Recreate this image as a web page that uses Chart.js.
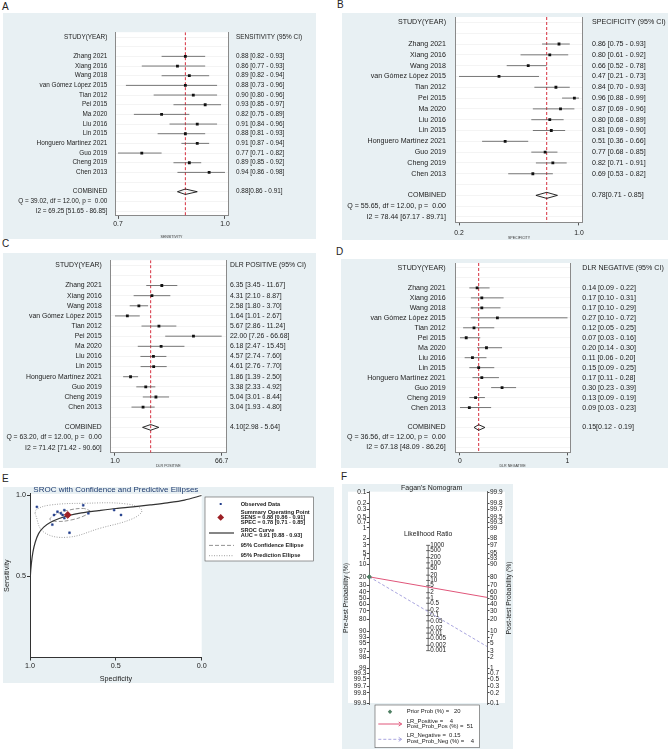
<!DOCTYPE html>
<html>
<head>
<meta charset="utf-8">
<script src="https://cdn.jsdelivr.net/npm/chart.js@4.4.1/dist/chart.umd.min.js"></script>
<style>
  body { margin: 0; background: #fff; }
  #page { position: relative; width: 668px; height: 749px; overflow: hidden; font-family: "Liberation Sans", Arial, sans-serif; }
  canvas { position: absolute; }
  .tag { position: absolute; font-size: 10px; line-height: 10px; color: #222; }
</style>
</head>
<body>
<div id="page">
  <div class="tag" style="left:2px;top:2px">A</div>
  <div class="tag" style="left:337px;top:0px">B</div>
  <div class="tag" style="left:2px;top:239px">C</div>
  <div class="tag" style="left:336px;top:247px">D</div>
  <div class="tag" style="left:2px;top:474px">E</div>
  <div class="tag" style="left:341px;top:472px">F</div>
  <canvas id="cA" width="313" height="226" style="left:3px;top:13px"></canvas>
  <canvas id="cB" width="326" height="227" style="left:342px;top:13px"></canvas>
  <canvas id="cC" width="313" height="215" style="left:3px;top:253px"></canvas>
  <canvas id="cD" width="327" height="209" style="left:341px;top:259px"></canvas>
  <canvas id="cE" width="331" height="196" style="left:3px;top:487px"></canvas>
  <canvas id="cF" width="171" height="265" style="left:342px;top:484px"></canvas>
</div>
<script>
// study level data
var studies = ['Zhang 2021', 'Xiang 2016', 'Wang 2018', 'van Gómez López 2015', 'Tian 2012', 'Pei 2015', 'Ma 2020',
  'Liu 2016', 'Lin 2015', 'Honguero Martínez 2021', 'Guo 2019', 'Cheng 2019', 'Chen 2013'];
var sens   = [0.88, 0.86, 0.89, 0.88, 0.90, 0.93, 0.82, 0.91, 0.88, 0.91, 0.77, 0.89, 0.94];
var sensLo = [0.82, 0.77, 0.82, 0.73, 0.80, 0.85, 0.75, 0.84, 0.81, 0.87, 0.71, 0.85, 0.86];
var sensHi = [0.93, 0.93, 0.94, 0.96, 0.96, 0.97, 0.89, 0.96, 0.93, 0.94, 0.82, 0.92, 0.98];
var spec   = [0.86, 0.80, 0.66, 0.47, 0.84, 0.96, 0.87, 0.80, 0.81, 0.51, 0.77, 0.82, 0.69];
var specLo = [0.75, 0.61, 0.52, 0.21, 0.70, 0.88, 0.69, 0.68, 0.69, 0.36, 0.68, 0.71, 0.53];
var specHi = [0.93, 0.92, 0.78, 0.73, 0.93, 0.99, 0.96, 0.89, 0.90, 0.66, 0.85, 0.91, 0.82];
var dlrPos   = [6.35, 4.31, 2.58, 1.64, 5.67, 22.00, 6.18, 4.57, 4.61, 1.86, 3.38, 5.04, 3.04];
var dlrPosLo = [3.45, 2.10, 1.80, 1.01, 2.86, 7.26, 2.47, 2.74, 2.76, 1.39, 2.33, 3.01, 1.93];
var dlrPosHi = [11.67, 8.87, 3.70, 2.67, 11.24, 66.68, 15.45, 7.60, 7.70, 2.50, 4.92, 8.44, 4.80];
var dlrNeg   = [0.14, 0.17, 0.17, 0.27, 0.12, 0.07, 0.20, 0.11, 0.15, 0.17, 0.30, 0.13, 0.09];
var dlrNegLo = [0.09, 0.10, 0.10, 0.10, 0.05, 0.03, 0.14, 0.06, 0.09, 0.11, 0.23, 0.09, 0.03];
var dlrNegHi = [0.22, 0.31, 0.29, 0.72, 0.25, 0.16, 0.30, 0.20, 0.25, 0.28, 0.39, 0.19, 0.23];

// pooled estimate [est, lo, hi] and heterogeneity [Q, df, p, I2, lo, hi]
var sensPooled = [0.88, 0.86, 0.91];
var specPooled = [0.78, 0.71, 0.85];
var dlrPosPooled = [4.10, 2.98, 5.64];
var dlrNegPooled = [0.15, 0.12, 0.19];
var aucPooled = [0.91, 0.88, 0.93];
var sensHet = [39.02, 12.00, 0.00, 69.25, 51.65, 86.85];
var specHet = [55.65, 12.00, 0.00, 78.44, 67.17, 89.71];
var dlrPosHet = [63.20, 12.00, 0.00, 71.42, 71.42, 90.60];
var dlrNegHet = [36.56, 12.00, 0.00, 67.18, 48.09, 86.26];

// forest x axis ticks (placed at data min / max, labelled rounded)
var sensTicks = [0.71, 0.98], sensTickLabels = ['0.7', '1.0'];
var specTicks = [0.21, 0.99], specTickLabels = ['0.2', '1.0'];
var dlrPosTicks = [1.01, 66.68], dlrPosTickLabels = ['1.0', '66.7'];
var dlrNegTicks = [0.03, 0.72], dlrNegTickLabels = ['0', '1'];

// SROC panel: curve and ellipses (specificity, sensitivity)
var srocSpec = [1.0, 1.0, 0.998, 0.992, 0.983, 0.97, 0.95, 0.92, 0.88, 0.83, 0.78, 0.70, 0.60, 0.50, 0.40, 0.30, 0.20, 0.10, 0.0];
var srocSens = [0.0, 0.40, 0.50, 0.58, 0.65, 0.71, 0.765, 0.805, 0.835, 0.858, 0.875, 0.893, 0.907, 0.92, 0.93, 0.942, 0.955, 0.972, 1.0];
var confSpec = [0.651, 0.680, 0.761, 0.845, 0.884, 0.853, 0.773, 0.689, 0.651];
var confSens = [0.906, 0.877, 0.849, 0.840, 0.853, 0.882, 0.910, 0.920, 0.906];
var predSpec = [0.971, 0.923, 0.786, 0.592, 0.398, 0.349, 0.437, 0.690, 0.884, 0.961, 0.971];
var predSens = [0.890, 0.777, 0.742, 0.798, 0.859, 0.910, 0.948, 0.952, 0.941, 0.915, 0.890];
var sErr = [1.0, 0.5, 0.0], sErrLabels = ['1.0', '0.5', '0.0'];
var sensAxisTicks = [0.5, 1.0], sensAxisLabels = ['0.5', '1.0'];

// Fagan nomogram
var priorProb = 20, lrPos = 4, postProbPos = 51, lrNeg = 0.15, postProbNeg = 4;
var preTicks = [0.1, 0.2, 0.3, 0.5, 0.7, 1, 2, 3, 5, 7, 10, 20, 30, 40, 50, 60, 70, 80, 90, 93, 95, 97, 98, 99, 99.3, 99.5, 99.7, 99.8, 99.9];
var postTicks = [99.9, 99.8, 99.7, 99.5, 99.3, 99, 98, 97, 95, 93, 90, 80, 70, 60, 50, 40, 30, 20, 10, 7, 5, 3, 2, 1, 0.7, 0.5, 0.3, 0.2, 0.1];
var lrTicks = [1000, 500, 200, 100, 50, 20, 10, 5, 2, 1, 0.5, 0.2, 0.1, 0.05, 0.02, 0.01, 0.005, 0.002, 0.001];

var BG = '#e8f0f3';
var FONT = '"Liberation Sans", Arial, sans-serif';
Chart.defaults.font.family = FONT;
Chart.defaults.color = '#222';

function fmt(v) { return v.toFixed(2); }
function ci(e, l, h) { return fmt(e) + ' [' + fmt(l) + ' - ' + fmt(h) + ']'; }
function logit(p) { return Math.log(p / (1 - p)); }
function pts(xs, ys) { return xs.map(function (v, i) { return {x: v, y: ys[i]}; }); }

var panelBg = {
  id: 'panelBg',
  beforeDraw: function (chart, args, opts) {
    var c = chart.ctx, a = chart.chartArea;
    var r = opts.plot || [a.left, a.top, a.right - a.left, a.bottom - a.top];
    c.save();
    c.fillStyle = BG;
    c.fillRect(0, 0, chart.width, chart.height);
    c.fillStyle = '#fff';
    c.fillRect(r[0], r[1], r[2], r[3]);
    c.restore();
  }
};

function forest(id, d, L) {
  var left = ['STUDY(YEAR)', ''].concat(studies, ['', 'COMBINED',
    'Q = ' + fmt(d.het[0]) + ', df = ' + fmt(d.het[1]) + ', p =  ' + fmt(d.het[2]),
    'I2 = ' + fmt(d.het[3]) + ' [' + fmt(d.het[4]) + ' - ' + fmt(d.het[5]) + ']']);
  var p = d.pooled;
  var right = [d.head, ''].concat(d.est.map(function (e, i) { return ci(e, d.lo[i], d.hi[i]); }),
    ['', fmt(p[0]) + '[' + fmt(p[1]) + ' - ' + fmt(p[2]) + ']', '', '']);
  var n = left.length, cy = n - 3;
  var bars = [];
  d.est.forEach(function (e, i) {
    bars.push({x: d.lo[i], y: i + 2}, {x: d.hi[i], y: i + 2}, {x: null, y: null});
  });
  var rowAxis = function (labels, pos, w, gap) {
    return {
      type: 'linear', position: pos, reverse: true, min: -0.5, max: n - 0.5,
      afterBuildTicks: function (s) { s.ticks = labels.map(function (t, i) { return {value: i}; }); },
      ticks: { callback: function (v) { return labels[v]; }, autoSkip: false, padding: gap, font: {size: L.fs}, color: '#222' },
      grid: pos === 'left' ? { color: '#ededed', lineWidth: 0.6, drawTicks: false } : { drawOnChartArea: false, drawTicks: false },
      border: { display: true, color: '#8a8a8a', width: 1 },
      afterFit: function (s) { s.width = w; s.paddingTop = 0; s.paddingBottom = 0; }
    };
  };
  new Chart(document.getElementById(id), {
    type: 'line',
    data: { datasets: [
      { data: d.est.map(function (e, i) { return {x: e, y: i + 2}; }), showLine: false, pointStyle: 'rect',
        pointRadius: 2, backgroundColor: '#111', borderColor: '#111', borderWidth: 0 },
      { data: [{x: p[1], y: cy}, {x: p[0], y: cy - 0.28}, {x: p[2], y: cy}, {x: p[0], y: cy + 0.28}, {x: p[1], y: cy}],
        borderColor: '#111', borderWidth: 0.9, pointRadius: 0 },
      { data: bars, borderColor: '#555', borderWidth: 0.8, pointRadius: 0, spanGaps: false },
      { data: [{x: p[0], y: -0.5}, {x: p[0], y: n - 0.5}], borderColor: '#d7303f', borderWidth: 1,
        borderDash: [3, 2], pointRadius: 0 }
    ]},
    options: {
      responsive: false, animation: false, events: [],
      layout: { padding: { top: L.top, left: 0, right: 0, bottom: 0 } },
      plugins: { legend: {display: false}, tooltip: {enabled: false}, panelBg: {} },
      scales: {
        x: {
          type: d.log ? 'logarithmic' : 'linear', min: L.min, max: L.max, bounds: 'data',
          afterBuildTicks: function (s) { s.ticks = d.ticks.map(function (v) { return {value: v}; }); },
          ticks: { callback: function (v, i) { return d.tickLabels[i]; }, autoSkip: false, maxRotation: 0,
            padding: L.tp, font: {size: 6.8}, color: '#222' },
          grid: { drawOnChartArea: false, tickLength: 3, color: '#555' },
          border: { display: true, color: '#8a8a8a' },
          title: { display: true, text: d.title, font: {size: 3.6}, padding: {top: 1, bottom: 0}, color: '#333' },
          afterFit: function (s) { s.height = L.xH; s.paddingLeft = 0; s.paddingRight = 0; }
        },
        y: rowAxis(left, 'left', L.yW, L.gapL),
        y2: rowAxis(right, 'right', L.y2W, L.gapR)
      }
    },
    plugins: [panelBg]
  });
}

forest('cA', {est: sens, lo: sensLo, hi: sensHi, pooled: sensPooled, het: sensHet, head: 'SENSITIVITY (95% CI)',
  title: 'SENSITIVITY', ticks: sensTicks, tickLabels: sensTickLabels},
  {min: 0.7024, max: 0.9876, fs: 6.4, top: 19.2, yW: 112, y2W: 88, xH: 23.1, gapL: 7.7, gapR: 8, tp: 1});
forest('cB', {est: spec, lo: specLo, hi: specHi, pooled: specPooled, het: specHet, head: 'SPECIFICITY (95% CI)',
  title: 'SPECIFICITY', ticks: specTicks, tickLabels: specTickLabels},
  {min: 0.1885, max: 1.0115, fs: 7.1, top: 1.5, yW: 113.7, y2W: 85.7, xH: 17.6, gapL: 9.7, gapR: 9.7, tp: 3.5});
forest('cC', {est: dlrPos, lo: dlrPosLo, hi: dlrPosHi, pooled: dlrPosPooled, het: dlrPosHet, head: 'DLR POSITIVE (95% CI)',
  title: 'DLR POSITIVE', ticks: dlrPosTicks, tickLabels: dlrPosTickLabels, log: true},
  {min: 0.83, max: 81.2, fs: 6.85, top: 7.2, yW: 107, y2W: 89.3, xH: 15.3, gapL: 8.3, gapR: 3.3, tp: 1.8});
forest('cD', {est: dlrNeg, lo: dlrNegLo, hi: dlrNegHi, pooled: dlrNegPooled, het: dlrNegHet, head: 'DLR NEGATIVE (95% CI)',
  title: 'DLR NEGATIVE', ticks: dlrNegTicks, tickLabels: dlrNegTickLabels},
  {min: -0.002, max: 0.736, fs: 7.1, top: 0.9, yW: 114, y2W: 98, xH: 15.6, gapL: 9.3, gapR: 12.3, tp: 2.1});

// E: SROC
var srocDeco = {
  id: 'srocDeco',
  afterDraw: function (chart) {
    var c = chart.ctx, a = chart.chartArea;
    c.save();
    c.fillStyle = '#1d3a6e';
    c.font = '8px ' + FONT;
    c.textAlign = 'center'; c.textBaseline = 'middle';
    c.fillText('SROC with Confidence and Predictive Ellipses', (a.left + a.right) / 2, 3.2);
    // legend box
    var bx = 202, by = 10, bw = 108.3, bh = 64;
    c.fillStyle = '#fff'; c.fillRect(bx, by, bw, bh);
    c.strokeStyle = '#555'; c.lineWidth = 0.6; c.strokeRect(bx, by, bw, bh);
    c.fillStyle = '#222'; c.font = 'bold 5.6px ' + FONT; c.textAlign = 'left';
    var tx = 237.7, sx = 217.7;
    c.fillText('Observed Data', tx, 17);
    c.fillText('Summary Operating Point', tx, 25.5);
    c.fillText('SENS = ' + ci(sensPooled[0], sensPooled[1], sensPooled[2]), tx, 30.5);
    c.fillText('SPEC = ' + ci(specPooled[0], specPooled[1], specPooled[2]), tx, 35.5);
    c.fillText('SROC Curve', tx, 43.7);
    c.fillText('AUC = ' + ci(aucPooled[0], aucPooled[1], aucPooled[2]), tx, 48.2);
    c.fillText('95% Confidence Ellipse', tx, 58.4);
    c.fillText('95% Prediction Ellipse', tx, 68.7);
    c.fillStyle = '#233f8c'; c.fillRect(sx - 1, 16, 2, 2);
    c.fillStyle = '#9c1f24';
    c.beginPath(); c.moveTo(sx, 27); c.lineTo(sx + 3.4, 30.4); c.lineTo(sx, 33.8); c.lineTo(sx - 3.4, 30.4); c.closePath(); c.fill();
    c.strokeStyle = '#333'; c.lineWidth = 1.2;
    c.beginPath(); c.moveTo(206, 46); c.lineTo(231, 46); c.stroke();
    c.lineWidth = 0.8; c.strokeStyle = '#777'; c.setLineDash([4, 2]);
    c.beginPath(); c.moveTo(206, 58.4); c.lineTo(231, 58.4); c.stroke();
    c.strokeStyle = '#888'; c.setLineDash([1, 1.5]);
    c.beginPath(); c.moveTo(206, 68.7); c.lineTo(231, 68.7); c.stroke();
    c.restore();
  }
};
new Chart(document.getElementById('cE'), {
  type: 'line',
  data: { datasets: [
    { data: pts(spec, sens), showLine: false, pointStyle: 'rect', pointRadius: 1.3, backgroundColor: '#233f8c', borderColor: '#233f8c', borderWidth: 0.5 },
    { data: [{x: specPooled[0], y: sensPooled[0]}], showLine: false, pointStyle: 'rectRot', pointRadius: 3.4,
      backgroundColor: '#9c1f24', borderColor: '#9c1f24' },
    { data: pts(srocSpec, srocSens), borderColor: '#333', borderWidth: 1.2, pointRadius: 0, tension: 0.3 },
    { data: pts(confSpec, confSens), borderColor: '#777', borderWidth: 0.8, borderDash: [4, 2], pointRadius: 0, tension: 0.4 },
    { data: pts(predSpec, predSens), borderColor: '#888', borderWidth: 0.8, borderDash: [1, 1.5], pointRadius: 0, tension: 0.4 }
  ]},
  options: {
    responsive: false, animation: false, events: [],
    layout: { padding: { top: 6.9, right: 132.3, left: 0, bottom: 0 } },
    plugins: { legend: {display: false}, tooltip: {enabled: false}, panelBg: {} },
    scales: {
      x: {
        type: 'linear', reverse: true, min: 0, max: 1, bounds: 'data',
        afterBuildTicks: function (s) { s.ticks = sErr.map(function (v) { return {value: v}; }); },
        ticks: { callback: function (v, i) { return sErrLabels[i]; }, maxRotation: 0, autoSkip: false, padding: 1, font: {size: 7.2} },
        grid: { drawOnChartArea: false, tickLength: 3, color: '#333' },
        border: { display: true, color: '#333' },
        title: { display: true, text: 'Specificity', font: {size: 7.2}, padding: {top: 1, bottom: 0} },
        afterFit: function (s) { s.height = 25.5; s.paddingLeft = 0; s.paddingRight = 0; }
      },
      y: {
        type: 'linear', min: 0, max: 1.01, bounds: 'data',
        afterBuildTicks: function (s) { s.ticks = sensAxisTicks.map(function (v) { return {value: v}; }); },
        ticks: { callback: function (v, i) { return sensAxisLabels[i]; }, autoSkip: false, padding: 1, font: {size: 7.2} },
        grid: { drawOnChartArea: false, tickLength: 3, color: '#333' },
        border: { display: true, color: '#333' },
        title: { display: true, text: 'Sensitivity', font: {size: 7.2}, padding: {top: 0, bottom: 1} },
        afterFit: function (s) { s.width = 27; s.paddingTop = 0; s.paddingBottom = 0; }
      }
    }
  },
  plugins: [panelBg, srocDeco]
});

// F: Fagan nomogram
function arrowLine(c, x0, x1, y) {
  c.beginPath(); c.moveTo(x0, y); c.lineTo(x1, y); c.stroke();
  c.setLineDash([]);
  c.beginPath(); c.moveTo(x1 - 3, y - 2); c.lineTo(x1, y); c.lineTo(x1 - 3, y + 2); c.stroke();
}
var faganDeco = {
  id: 'faganDeco',
  beforeDatasetsDraw: function (chart) {
    var c = chart.ctx, xs = chart.scales.x, ys = chart.scales.y;
    var mx = xs.getPixelForValue(1);
    c.save();
    c.strokeStyle = '#444'; c.lineWidth = 0.8; c.fillStyle = '#222';
    c.beginPath();
    c.moveTo(mx, ys.getPixelForValue(Math.log(lrTicks[0]) / 2));
    c.lineTo(mx, ys.getPixelForValue(Math.log(lrTicks[lrTicks.length - 1]) / 2));
    c.stroke();
    c.font = '6.3px ' + FONT; c.textAlign = 'left'; c.textBaseline = 'middle';
    lrTicks.forEach(function (v) {
      var y = ys.getPixelForValue(Math.log(v) / 2);
      c.beginPath(); c.moveTo(mx - 2, y); c.lineTo(mx + 2, y); c.stroke();
      c.fillText(String(v), mx + 2, y);
    });
    c.textAlign = 'center';
    c.font = '6.8px ' + FONT;
    c.fillText('Likelihood Ratio', mx, 50.3);
    c.restore();
  },
  afterDraw: function (chart) {
    var c = chart.ctx;
    c.save();
    c.fillStyle = '#222'; c.textBaseline = 'middle'; c.textAlign = 'center';
    c.font = '7px ' + FONT;
    c.fillText("Fagan's Nomogram", 89.7, 4.3);
    c.font = '6.8px ' + FONT;
    c.save(); c.translate(4.5, 114); c.rotate(-Math.PI / 2); c.fillText('Pre-test Probability (%)', 0, 0); c.restore();
    c.save(); c.translate(167, 114); c.rotate(-Math.PI / 2); c.fillText('Post-test Probability (%)', 0, 0); c.restore();
    // legend
    var bx = 33, by = 221, bw = 104.3, bh = 42.7;
    c.fillStyle = '#fff'; c.fillRect(bx, by, bw, bh);
    c.strokeStyle = '#555'; c.lineWidth = 0.6; c.strokeRect(bx, by, bw, bh);
    c.fillStyle = '#222'; c.textAlign = 'left'; c.font = '5.9px ' + FONT;
    c.fillText('Prior Prob (%) =   ' + priorProb, 64.7, 227.7);
    c.fillText('LR_Positive =    ' + lrPos, 64.7, 237.2);
    c.fillText('Post_Prob_Pos (%) =  ' + postProbPos, 64.7, 242.7);
    c.fillText('LR_Negative =  ' + lrNeg, 64.7, 251.7);
    c.fillText('Post_Prob_Neg (%) =    ' + postProbNeg, 64.7, 257.4);
    c.fillStyle = '#4f7f63';
    c.beginPath(); c.moveTo(48, 225.5); c.lineTo(50.2, 227.7); c.lineTo(48, 229.9); c.lineTo(45.8, 227.7); c.closePath(); c.fill();
    c.strokeStyle = '#e0567a'; c.lineWidth = 1;
    arrowLine(c, 36.3, 59.7, 240);
    c.strokeStyle = '#a9a5df'; c.setLineDash([3, 2]);
    arrowLine(c, 36.3, 59.7, 255.3);
    c.restore();
  }
};
var probAxis = function (ticks, pos, sign, w) {
  return {
    type: 'linear', position: pos, min: -7, max: 7, bounds: 'data',
    afterBuildTicks: function (s) { s.ticks = ticks.map(function (v) { return {value: sign * logit(v / 100)}; }); },
    ticks: { callback: function (v, i) { return String(ticks[i]); }, autoSkip: false, padding: 0.5, font: {size: 6.5} },
    grid: { drawOnChartArea: false, tickLength: 2.5, color: '#444' },
    border: { display: true, color: '#444', width: 0.8 },
    afterFit: function (s) { s.width = w; s.paddingTop = 0; s.paddingBottom = 0; }
  };
};
new Chart(document.getElementById('cF'), {
  type: 'line',
  data: { datasets: [
    { data: [{x: 0, y: -logit(priorProb / 100)}], showLine: false, pointStyle: 'rectRot', pointRadius: 2.2,
      backgroundColor: '#4f7f63', borderColor: '#4f7f63', clip: false },
    { data: [{x: 0, y: -logit(priorProb / 100)}, {x: 2, y: logit(postProbPos / 100)}], borderColor: '#e0567a',
      borderWidth: 1, pointRadius: 0 },
    { data: [{x: 0, y: -logit(priorProb / 100)}, {x: 2, y: logit(postProbNeg / 100)}], borderColor: '#a9a5df',
      borderWidth: 1, borderDash: [3, 2], pointRadius: 0 }
  ]},
  options: {
    responsive: false, animation: false, events: [],
    layout: { padding: { top: 7.25, bottom: 44.25, left: 0, right: 0 } },
    plugins: { legend: {display: false}, tooltip: {enabled: false}, panelBg: {plot: [6, 7.7, 157, 211.3]} },
    scales: {
      x: { type: 'linear', min: 0, max: 2, display: false },
      y: probAxis(preTicks, 'left', -1, 27.3),
      y2: probAxis(postTicks, 'right', 1, 26)
    }
  },
  plugins: [panelBg, faganDeco]
});
</script>
</body>
</html>
